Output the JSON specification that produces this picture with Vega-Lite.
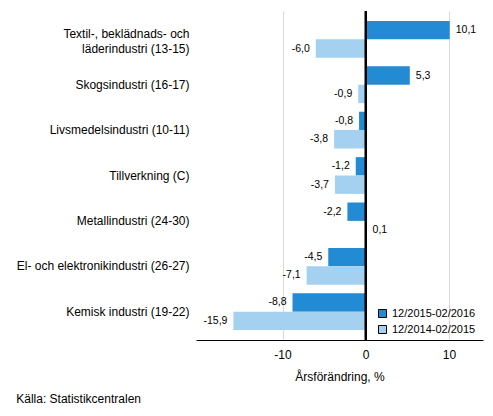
{
  "$schema": "https://vega.github.io/schema/vega-lite/v6.json",
  "autosize": {"type": "none"},
  "padding": {"left": 196, "top": 11, "right": 10, "bottom": 76},
  "width": 287,
  "height": 329,
  "background": "white",
  "title": {
    "text": "Källa: Statistikcentralen",
    "orient": "bottom",
    "anchor": "start",
    "frame": "bounds",
    "offset": 12,
    "fontSize": 12,
    "fontWeight": "normal",
    "color": "#000000"
  },
  "config": {
    "font": "Liberation Sans",
    "view": {"stroke": null},
    "locale": {
      "number": {
        "decimal": ",",
        "thousands": " ",
        "grouping": [3],
        "currency": ["", " €"],
        "minus": "-"
      }
    }
  },
  "data": {
    "values": [
      {"industry": "Textil-, beklädnads- och läderindustri (13-15)", "period": "12/2015-02/2016", "value": 10.1},
      {"industry": "Textil-, beklädnads- och läderindustri (13-15)", "period": "12/2014-02/2015", "value": -6.0},
      {"industry": "Skogsindustri (16-17)", "period": "12/2015-02/2016", "value": 5.3},
      {"industry": "Skogsindustri (16-17)", "period": "12/2014-02/2015", "value": -0.9},
      {"industry": "Livsmedelsindustri (10-11)", "period": "12/2015-02/2016", "value": -0.8},
      {"industry": "Livsmedelsindustri (10-11)", "period": "12/2014-02/2015", "value": -3.8},
      {"industry": "Tillverkning (C)", "period": "12/2015-02/2016", "value": -1.2},
      {"industry": "Tillverkning (C)", "period": "12/2014-02/2015", "value": -3.7},
      {"industry": "Metallindustri (24-30)", "period": "12/2015-02/2016", "value": -2.2},
      {"industry": "Metallindustri (24-30)", "period": "12/2014-02/2015", "value": 0.1},
      {"industry": "El- och elektronikindustri (26-27)", "period": "12/2015-02/2016", "value": -4.5},
      {"industry": "El- och elektronikindustri (26-27)", "period": "12/2014-02/2015", "value": -7.1},
      {"industry": "Kemisk industri (19-22)", "period": "12/2015-02/2016", "value": -8.8},
      {"industry": "Kemisk industri (19-22)", "period": "12/2014-02/2015", "value": -15.9}
    ]
  },
  "encoding": {
    "y": {
      "field": "industry",
      "type": "nominal",
      "sort": null,
      "scale": {"paddingInner": 0.19, "paddingOuter": 0.22},
      "axis": {
        "title": null,
        "domain": false,
        "ticks": false,
        "labelPadding": 7,
        "labelFontSize": 12,
        "labelColor": "#000000",
        "labelLimit": 250,
        "labelLineHeight": 15,
        "labelOffset": {
          "condition": {"test": "datum.value == 'Textil-, beklädnads- och läderindustri (13-15)'", "value": -5},
          "value": 0
        },
        "labelExpr": "datum.value == 'Textil-, beklädnads- och läderindustri (13-15)' ? ['Textil-, beklädnads- och', 'läderindustri (13-15)'] : datum.value"
      }
    },
    "yOffset": {
      "field": "period",
      "type": "nominal",
      "sort": ["12/2015-02/2016", "12/2014-02/2015"],
      "scale": {"paddingInner": 0, "paddingOuter": 0}
    },
    "x": {
      "field": "value",
      "type": "quantitative",
      "scale": {"domain": [-20.4, 14.1], "nice": false, "zero": false},
      "axis": {
        "title": "Årsförändring, %",
        "titleFontSize": 12,
        "titleFontWeight": "normal",
        "titleColor": "#000000",
        "titlePadding": 11,
        "values": [-10, 0, 10],
        "format": "d",
        "labelFontSize": 12,
        "labelColor": "#000000",
        "labelPadding": 9,
        "ticks": false,
        "domainColor": "#000000",
        "gridColor": "#d9d9d9"
      }
    }
  },
  "layer": [
    {
      "mark": {"type": "bar"},
      "encoding": {
        "color": {
          "field": "period",
          "type": "nominal",
          "scale": {
            "domain": ["12/2015-02/2016", "12/2014-02/2015"],
            "range": ["#238bd3", "#a3d1ef"]
          },
          "legend": {
            "title": null,
            "orient": "none",
            "legendX": 181,
            "legendY": 297,
            "symbolType": "square",
            "symbolSize": 64,
            "symbolStrokeColor": "#000000",
            "symbolStrokeWidth": 1,
            "labelFontSize": 11,
            "labelColor": "#000000",
            "rowPadding": 3,
            "labelOffset": 4
          }
        }
      }
    },
    {
      "transform": [{"filter": "datum.value >= 0"}],
      "mark": {"type": "text", "align": "left", "dx": 6, "fontSize": 10.5, "color": "#000000"},
      "encoding": {
        "text": {"field": "value", "type": "quantitative", "format": ".1f"}
      }
    },
    {
      "transform": [{"filter": "datum.value < 0"}],
      "mark": {"type": "text", "align": "right", "dx": -6, "fontSize": 10.5, "color": "#000000"},
      "encoding": {
        "text": {"field": "value", "type": "quantitative", "format": ".1f"}
      }
    },
    {
      "mark": {"type": "rule", "color": "#000000", "strokeWidth": 1.5},
      "encoding": {
        "x": {"datum": 0},
        "y": null,
        "yOffset": null
      }
    }
  ]
}
